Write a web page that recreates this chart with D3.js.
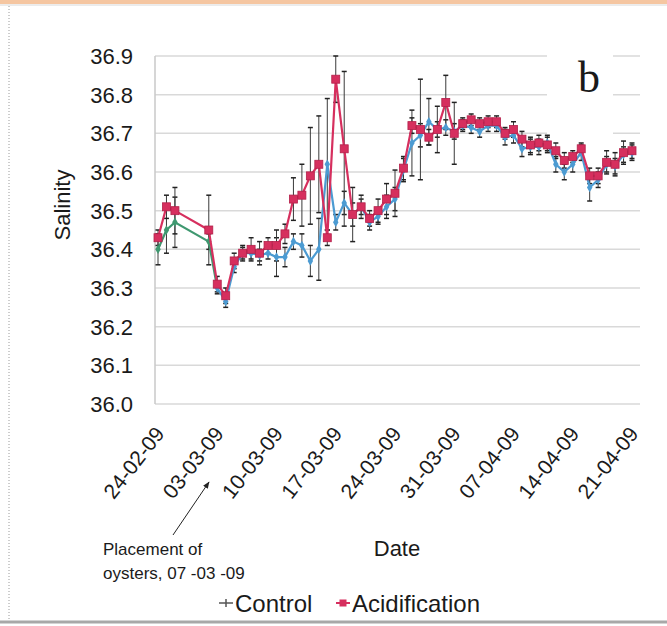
<!DOCTYPE html>
<html>
<head>
<meta charset="utf-8">
<script src="https://cdn.jsdelivr.net/npm/d3@7"></script>
<style>
  body { margin: 0; background: #fff; }
  text { font-family: Arial, "Liberation Sans", sans-serif; fill: #1a1a1a; }
</style>
</head>
<body>
<div id="chartdiv"></div>
<script>
const width = 667;
const height = 626;

// sampling dates (dd-mm-yy)
const dates = ["24-02-09","25-02-09","26-02-09",
  "02-03-09","03-03-09","04-03-09","05-03-09","06-03-09","07-03-09","08-03-09","09-03-09","10-03-09",
  "11-03-09","12-03-09","13-03-09","14-03-09","15-03-09","16-03-09","17-03-09","18-03-09","19-03-09",
  "20-03-09","21-03-09","22-03-09","23-03-09","24-03-09","25-03-09","26-03-09","27-03-09","28-03-09",
  "29-03-09","30-03-09","31-03-09","01-04-09","02-04-09","03-04-09","04-04-09","05-04-09","06-04-09",
  "07-04-09","08-04-09","09-04-09","10-04-09","11-04-09","12-04-09","13-04-09","14-04-09","15-04-09",
  "16-04-09","17-04-09","18-04-09","19-04-09","20-04-09","21-04-09"];

const controlVals = [36.40,36.45,36.47,
  36.42,36.30,36.265,36.355,36.39,36.39,36.385,36.39,36.38,
  36.38,36.42,36.41,36.37,36.40,36.62,36.47,36.52,36.49,
  36.51,36.47,36.485,36.51,36.53,36.605,36.675,36.695,36.73,
  36.71,36.715,36.705,36.72,36.715,36.705,36.72,36.72,36.69,
  36.695,36.66,36.665,36.665,36.675,36.62,36.60,36.62,36.65,
  36.56,36.58,36.62,36.615,36.645,36.65];

const acidVals = [36.43,36.51,36.50,
  36.45,36.31,36.28,36.37,36.39,36.40,36.39,36.41,36.41,
  36.44,36.53,36.54,36.59,36.62,36.43,36.84,36.66,36.49,
  36.51,36.48,36.50,36.53,36.545,36.61,36.72,36.71,36.69,
  36.71,36.78,36.70,36.725,36.735,36.725,36.73,36.73,36.70,
  36.71,36.685,36.67,36.675,36.67,36.655,36.63,36.64,36.66,
  36.59,36.59,36.625,36.62,36.65,36.655];

const controlErr = [0.04,0.06,0.065,
  0.02,0.015,0.015,0.015,0.015,0.015,0.015,0.015,0.05,
  0.025,0.02,0.03,0.04,0.08,0.17,0.02,0.03,0.03,
  0.02,0.02,0.02,0.03,0.03,0.03,0.085,0.03,0.06,
  0.02,0.02,0.02,0.015,0.015,0.015,0.015,0.015,0.02,
  0.02,0.02,0.02,0.02,0.02,0.02,0.02,0.02,0.02,
  0.035,0.02,0.02,0.02,0.02,0.02];

const acidErr = [0.02,0.03,0.06,
  0.09,0.02,0.02,0.02,0.02,0.03,0.03,0.02,0.04,
  0.025,0.055,0.08,0.125,0.125,0.02,0.06,0.2,0.07,
  0.03,0.02,0.03,0.04,0.06,0.03,0.02,0.13,0.02,
  0.06,0.07,0.08,0.015,0.015,0.015,0.015,0.015,0.015,
  0.02,0.02,0.02,0.02,0.02,0.02,0.02,0.015,0.015,
  0.02,0.02,0.03,0.03,0.03,0.02];

const xTickLabels = ["24-02-09","03-03-09","10-03-09","17-03-09","24-03-09","31-03-09","07-04-09","14-04-09","21-04-09"];
const yTicks = [36.0,36.1,36.2,36.3,36.4,36.5,36.6,36.7,36.8,36.9];
// control line was drawn green up to this point, blue afterwards
const greenUntil = 4;

const parse = d3.timeParse("%d-%m-%y");
const fmt = d3.timeFormat("%d-%m-%y");

const data = dates.map((d, i) => ({
  date: parse(d), ctrl: controlVals[i], acid: acidVals[i],
  ctrlErr: controlErr[i], acidErr: acidErr[i], i: i
}));

const svg = d3.select("#chartdiv").append("svg")
  .attr("width", width)
  .attr("height", height);

// frame bits
svg.append("rect").attr("x", 0).attr("y", 0).attr("width", width).attr("height", 4).attr("fill", "#f5c6a1");
svg.append("line").attr("x1", 0).attr("x2", width).attr("y1", 5).attr("y2", 5).attr("stroke", "#d8d8d8");
svg.append("line").attr("x1", 9).attr("x2", 9).attr("y1", 6).attr("y2", 620)
  .attr("stroke", "#9a9a9a").attr("stroke-dasharray", "1,2");
svg.append("line").attr("x1", 0).attr("x2", width).attr("y1", 622).attr("y2", 622)
  .attr("stroke", "#a8a8a8").attr("stroke-width", 3);

const x = d3.scaleTime()
  .domain([parse(dates[0]), parse(dates[dates.length - 1])])
  .range([158, 632]);

const y = d3.scaleLinear()
  .domain([36.0, 36.9])
  .range([404, 56]);

// gridlines
svg.selectAll("line.grid")
  .data(yTicks)
  .enter()
  .append("line")
    .attr("class", "grid")
    .attr("x1", 155)
    .attr("x2", 640)
    .attr("y1", d => y(d))
    .attr("y2", d => y(d))
    .attr("stroke", "#d9d9d9")
    .attr("stroke-width", 1.5);

svg.append("line")
  .attr("x1", 155).attr("x2", 155)
  .attr("y1", y(36.9)).attr("y2", y(36.0))
  .attr("stroke", "#c8c8c8").attr("stroke-width", 1.5);

// white box behind the panel letter
svg.append("rect").attr("x", 547).attr("y", 44).attr("width", 66).attr("height", 96).attr("fill", "#fff");

// y tick labels
svg.selectAll("text.ytick")
  .data(yTicks)
  .enter()
  .append("text")
    .attr("class", "ytick")
    .attr("x", 133)
    .attr("y", d => y(d) + 8)
    .attr("text-anchor", "end")
    .style("font-size", "22px")
    .text(d => d3.format(".1f")(d));

// x axis labels
const xAxis = svg.append("g")
  .attr("transform", "translate(0," + y(36.0) + ")")
  .call(d3.axisBottom(x).tickValues(xTickLabels.map(parse)).tickFormat(fmt).tickSize(0));
xAxis.select("path.domain").remove();
xAxis.selectAll("text")
  .attr("text-anchor", "end")
  .attr("dy", null)
  .attr("y", 0)
  .attr("transform", "translate(7,30) rotate(-52)")
  .style("font-size", "21px")
  .style("font-family", "Arial, 'Liberation Sans', sans-serif")
  .attr("fill", "#1a1a1a");

// axis titles
svg.append("text")
  .attr("transform", "translate(70,205) rotate(-90)")
  .attr("text-anchor", "middle")
  .style("font-size", "22px")
  .text("Salinity");

svg.append("text")
  .attr("x", 397).attr("y", 556)
  .attr("text-anchor", "middle")
  .style("font-size", "22px")
  .text("Date");

// error bars
function errBars(key, errKey, cls) {
  const g = svg.append("g").attr("class", cls);
  g.selectAll("line.v")
    .data(data)
    .enter()
    .append("line")
      .attr("x1", d => x(d.date)).attr("x2", d => x(d.date))
      .attr("y1", d => y(d[key] - d[errKey])).attr("y2", d => y(d[key] + d[errKey]))
      .attr("stroke", "#3a3a3a").attr("stroke-width", 1);
  g.selectAll("line.top")
    .data(data)
    .enter()
    .append("line")
      .attr("x1", d => x(d.date) - 2.5).attr("x2", d => x(d.date) + 2.5)
      .attr("y1", d => y(d[key] + d[errKey])).attr("y2", d => y(d[key] + d[errKey]))
      .attr("stroke", "#222").attr("stroke-width", 1.5);
  g.selectAll("line.bot")
    .data(data)
    .enter()
    .append("line")
      .attr("x1", d => x(d.date) - 2.5).attr("x2", d => x(d.date) + 2.5)
      .attr("y1", d => y(d[key] - d[errKey])).attr("y2", d => y(d[key] - d[errKey]))
      .attr("stroke", "#222").attr("stroke-width", 1.5);
}
errBars("ctrl", "ctrlErr", "ctrlerr");
errBars("acid", "acidErr", "aciderr");

const green = "#3f9870";
const blue = "#4c9bd2";
const red = "#d62f5e";

// control line
const line = key => d3.line().x(d => x(d.date)).y(d => y(d[key]));
svg.append("path")
  .datum(data.filter(d => d.i >= greenUntil))
  .attr("d", line("ctrl"))
  .attr("fill", "none").attr("stroke", blue).attr("stroke-width", 2.2);
svg.append("path")
  .datum(data.filter(d => d.i <= greenUntil))
  .attr("d", line("ctrl"))
  .attr("fill", "none").attr("stroke", green).attr("stroke-width", 2.2);

svg.selectAll("path.ctrlmark")
  .data(data)
  .enter()
  .append("path")
    .attr("class", "ctrlmark")
    .attr("d", d3.symbol().type(d3.symbolDiamond).size(26))
    .attr("transform", d => "translate(" + x(d.date) + "," + y(d.ctrl) + ")")
    .attr("fill", d => d.i < greenUntil ? green : blue);

// acidification line
svg.append("path")
  .datum(data)
  .attr("d", line("acid"))
  .attr("fill", "none").attr("stroke", red).attr("stroke-width", 2.2);

svg.selectAll("rect.acidmark")
  .data(data)
  .enter()
  .append("rect")
    .attr("class", "acidmark")
    .attr("x", d => x(d.date) - 4)
    .attr("y", d => y(d.acid) - 4)
    .attr("width", 8).attr("height", 8)
    .attr("fill", red).attr("stroke", "#b3204a").attr("stroke-width", 0.8);

// panel letter
svg.append("text")
  .attr("x", 589).attr("y", 92)
  .attr("text-anchor", "middle")
  .style("font-family", "'Liberation Serif', 'Times New Roman', serif")
  .style("font-size", "44px")
  .text("b");

// annotation
svg.append("text").attr("x", 103).attr("y", 555).style("font-size", "17px").text("Placement of");
svg.append("text").attr("x", 103).attr("y", 579).style("font-size", "17px").text("oysters, 07 -03 -09");

svg.append("defs").append("marker")
  .attr("id", "arrow")
  .attr("viewBox", "0 0 10 10")
  .attr("refX", 9).attr("refY", 5)
  .attr("markerWidth", 7).attr("markerHeight", 7)
  .attr("orient", "auto")
  .append("path")
    .attr("d", "M0,1 L10,5 L0,9 Z")
    .attr("fill", "#222");

svg.append("line")
  .attr("x1", 173).attr("y1", 535)
  .attr("x2", 209).attr("y2", 482)
  .attr("stroke", "#222").attr("stroke-width", 1)
  .attr("marker-end", "url(#arrow)");

// legend
const lg = svg.append("g").attr("transform", "translate(0,603)");
lg.append("line").attr("x1", 219).attr("x2", 233).attr("y1", 0).attr("y2", 0).attr("stroke", "#555").attr("stroke-width", 1.5);
lg.append("line").attr("x1", 226).attr("x2", 226).attr("y1", -4).attr("y2", 4).attr("stroke", "#555").attr("stroke-width", 1.5);
lg.append("text").attr("x", 235).attr("y", 9).style("font-size", "24px").text("Control");
lg.append("line").attr("x1", 336).attr("x2", 350).attr("y1", 0).attr("y2", 0).attr("stroke", red).attr("stroke-width", 2);
lg.append("rect").attr("x", 339.5).attr("y", -3.5).attr("width", 7).attr("height", 7).attr("fill", red);
lg.append("text").attr("x", 352).attr("y", 9).style("font-size", "24px").text("Acidification");
</script>
</body>
</html>
